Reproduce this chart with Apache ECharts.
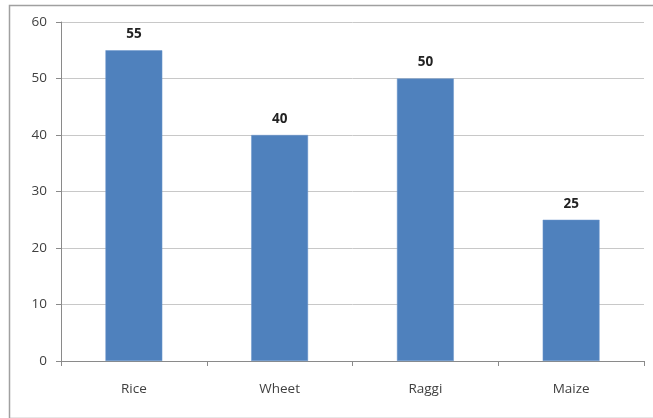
<!DOCTYPE html>
<html><head><meta charset="utf-8">
<script src="https://cdn.jsdelivr.net/npm/echarts@6/dist/echarts.min.js"></script>
<style>html,body{margin:0;padding:0;background:#fff}#c{width:653px;height:418px}</style>
</head><body><div id="c"></div>
<script>
const categories = ['Rice', 'Wheet', 'Raggi', 'Maize'];
const values = [55, 40, 50, 25];
const yTicks = [0, 10, 20, 30, 40, 50, 60];

const chart = echarts.init(document.getElementById('c'), null, {renderer: 'canvas'});
chart.setOption({
  animation: false,
  backgroundColor: '#fff',
  graphic: [{
    type: 'rect', left: 7, top: 3, z: -1,
    shape: {width: 660, height: 413},
    style: {fill: 'none', stroke: '#a0a0a0', lineWidth: 1.5}
  }],
  grid: {left: 61, right: 9, top: 22, bottom: 57},
  xAxis: {
    type: 'category', data: categories,
    axisLine: {lineStyle: {color: '#8a8a8a', width: 1}},
    axisTick: {show: true, length: 5, alignWithLabel: false, lineStyle: {color: '#8a8a8a'}},
    axisLabel: {color: '#404040', fontSize: 13.5, fontFamily: 'Open Sans', margin: 21}
  },
  yAxis: {
    type: 'value', min: yTicks[0], max: yTicks[yTicks.length - 1], interval: 10,
    axisLine: {show: true, lineStyle: {color: '#8a8a8a', width: 1}},
    axisTick: {show: true, length: 5, lineStyle: {color: '#8a8a8a'}},
    splitLine: {lineStyle: {color: '#c8c8c8', width: 1}},
    axisLabel: {color: '#404040', fontSize: 13.5, fontFamily: 'Open Sans', margin: 14}
  },
  series: [{
    type: 'bar', data: values, barWidth: '39%',
    itemStyle: {color: '#4F81BD', borderColor: '#6d97cc', borderWidth: 0.5},
    label: {show: true, position: 'top', distance: 9, color: '#222', fontWeight: 'bold', fontSize: 13.5, fontFamily: 'Open Sans'}
  }]
});
</script></body></html>
